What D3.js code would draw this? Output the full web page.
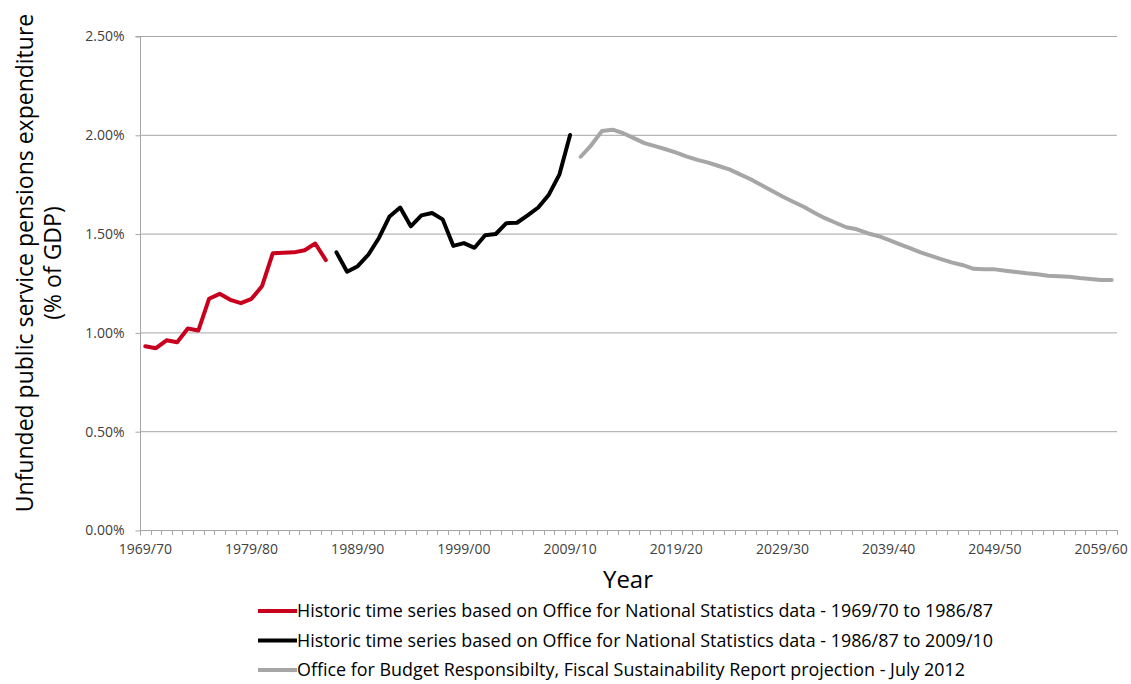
<!DOCTYPE html>
<html>
<head>
<meta charset="utf-8">
<script src="https://cdn.jsdelivr.net/npm/d3@7"></script>
<style>
  html, body { margin: 0; padding: 0; background: #fff; }
  svg { display: block; font-family: "Open Sans", sans-serif; }
</style>
</head>
<body>
<svg id="chart" width="1131" height="684"></svg>
<script>
const categories = [
  "1969/70","1970/71","1971/72","1972/73","1973/74","1974/75","1975/76","1976/77","1977/78","1978/79",
  "1979/80","1980/81","1981/82","1982/83","1983/84","1984/85","1985/86","1986/87","1987/88","1988/89",
  "1989/90","1990/91","1991/92","1992/93","1993/94","1994/95","1995/96","1996/97","1997/98","1998/99",
  "1999/00","2000/01","2001/02","2002/03","2003/04","2004/05","2005/06","2006/07","2007/08","2008/09",
  "2009/10","2010/11","2011/12","2012/13","2013/14","2014/15","2015/16","2016/17","2017/18","2018/19",
  "2019/20","2020/21","2021/22","2022/23","2023/24","2024/25","2025/26","2026/27","2027/28","2028/29",
  "2029/30","2030/31","2031/32","2032/33","2033/34","2034/35","2035/36","2036/37","2037/38","2038/39",
  "2039/40","2040/41","2041/42","2042/43","2043/44","2044/45","2045/46","2046/47","2047/48","2048/49",
  "2049/50","2050/51","2051/52","2052/53","2053/54","2054/55","2055/56","2056/57","2057/58","2058/59",
  "2059/60","2060/61"
];
const xTickLabels = ["1969/70","1979/80","1989/90","1999/00","2009/10","2019/20","2029/30","2039/40","2049/50","2059/60"];
const yTicks = [0, 0.5, 1.0, 1.5, 2.0, 2.5];

// Historic ONS series 1 (starts 1969/70)
const onsEarlyStart = "1969/70";
const onsEarly = [0.93,0.92,0.96,0.95,1.02,1.01,1.17,1.195,1.165,1.148,1.17,1.235,1.40,1.403,1.405,1.416,1.45,1.366];
// Historic ONS series 2 (plotted from 1987/88)
const onsLateStart = "1987/88";
const onsLate = [1.405,1.307,1.335,1.393,1.478,1.587,1.632,1.537,1.592,1.604,1.572,1.438,1.452,1.428,1.492,1.498,1.553,1.555,1.592,1.632,1.697,1.800,1.999];
// OBR projection (starts 2010/11)
const obrStart = "2010/11";
const obr = [1.889,1.948,2.019,2.026,2.008,1.983,1.958,1.943,1.927,1.910,1.890,1.873,1.859,1.842,1.825,1.800,1.775,1.746,1.717,1.688,1.661,1.636,1.606,1.578,1.555,1.532,1.522,
  1.502,1.488,1.468,1.447,1.426,1.405,1.387,1.370,1.353,1.340,1.322,1.320,1.319,1.312,1.306,1.299,1.294,1.287,1.284,1.282,1.275,1.270,1.265,1.265];

const seriesNames = [
  "Historic time series based on Office for National Statistics data - 1969/70 to 1986/87",
  "Historic time series based on Office for National Statistics data - 1986/87 to 2009/10",
  "Office for Budget Responsibilty, Fiscal Sustainability Report projection - July 2012"
];
const seriesColors = ["#C8001E", "#000000", "#A6A6A6"];

const svg = d3.select("#chart");
const pLeft = 140, pRight = 1117, pTop = 36, pBottom = 530;

const x = d3.scaleBand().domain(categories).range([pLeft, pRight]).paddingInner(0).paddingOuter(0);
const y = d3.scaleLinear().domain([0, 2.5]).range([pBottom, pTop]);
const gridColor = "#A6A6A6";

// gridlines
svg.append("g").selectAll("line").data(yTicks.filter(d => d > 0)).join("line")
  .attr("x1", pLeft).attr("x2", pRight)
  .attr("y1", d => y(d) + 0.5).attr("y2", d => y(d) + 0.5)
  .attr("stroke", gridColor).attr("stroke-width", 1);

// y axis
const yAxis = d3.axisLeft(y).tickValues(yTicks).tickSize(5).tickPadding(11)
  .tickFormat(d => d3.format(".2f")(d) + "%");
const gy = svg.append("g").attr("transform", `translate(${pLeft + 0.5},0.5)`).call(yAxis);
gy.select(".domain").attr("stroke", gridColor).attr("d", `M-5,${pTop}H0V${pBottom + 5}`);
gy.selectAll(".tick line").attr("stroke", gridColor);
gy.selectAll(".tick text").attr("fill", "#404040").style("font-size", "14px").style("font-family", "Open Sans");

// x axis baseline
svg.append("line").attr("x1", pLeft).attr("x2", pRight + 1)
  .attr("y1", pBottom + 0.5).attr("y2", pBottom + 0.5).attr("stroke", gridColor);
// x tick marks at category boundaries
const boundaries = categories.map(c => x(c)).concat([x(categories[categories.length - 1]) + x.bandwidth()]);
svg.append("g").selectAll("line").data(boundaries).join("line")
  .attr("x1", d => Math.round(d) + 0.5).attr("x2", d => Math.round(d) + 0.5)
  .attr("y1", pBottom).attr("y2", pBottom + 5)
  .attr("stroke", gridColor);
// x tick labels
const xAxis = d3.axisBottom(x).tickValues(xTickLabels).tickSize(0).tickPadding(14);
const gx = svg.append("g").attr("transform", `translate(0,${pBottom})`).call(xAxis);
gx.select(".domain").remove();
gx.selectAll(".tick text").attr("fill", "#404040").style("font-size", "14px").style("font-family", "Open Sans");

// lines
const line = d3.line().x(d => x(d.c) + x.bandwidth() / 2).y(d => y(d.v));
function toPts(start, vals) {
  const i0 = categories.indexOf(start);
  return vals.map((v, i) => ({ c: categories[i0 + i], v }));
}
const allSeries = [toPts(onsEarlyStart, onsEarly), toPts(onsLateStart, onsLate), toPts(obrStart, obr)];
allSeries.forEach((pts, i) => {
  svg.append("path").datum(pts).attr("d", line)
    .attr("fill", "none").attr("stroke", seriesColors[i]).attr("stroke-width", 4)
    .attr("stroke-linejoin", "round").attr("stroke-linecap", "round");
});

// y axis title
const yt = svg.append("g");
yt.append("text").attr("transform", "translate(32.5,263) rotate(-90)")
  .attr("text-anchor", "middle").style("font-size", "23px").style("font-weight", "500").attr("fill", "#000")
  .text("Unfunded public service pensions expenditure");
yt.append("text").attr("transform", "translate(61,263) rotate(-90)")
  .attr("text-anchor", "middle").style("font-size", "23px").style("font-weight", "500").attr("fill", "#000")
  .text("(% of GDP)");

// x axis title
svg.append("text").attr("x", 628).attr("y", 588).attr("text-anchor", "middle")
  .style("font-size", "24px").style("font-weight", "500").attr("fill", "#000").text("Year");

// legend
const lg = svg.append("g");
seriesNames.forEach((name, i) => {
  const cy = 611 + i * 29.5;
  lg.append("line").attr("x1", 258).attr("x2", 297).attr("y1", cy).attr("y2", cy)
    .attr("stroke", seriesColors[i]).attr("stroke-width", 4);
  lg.append("text").attr("x", 297).attr("y", cy).attr("dy", "0.35em")
    .style("font-size", "17.9px").attr("fill", "#000").text(name);
});
</script>
</body>
</html>
